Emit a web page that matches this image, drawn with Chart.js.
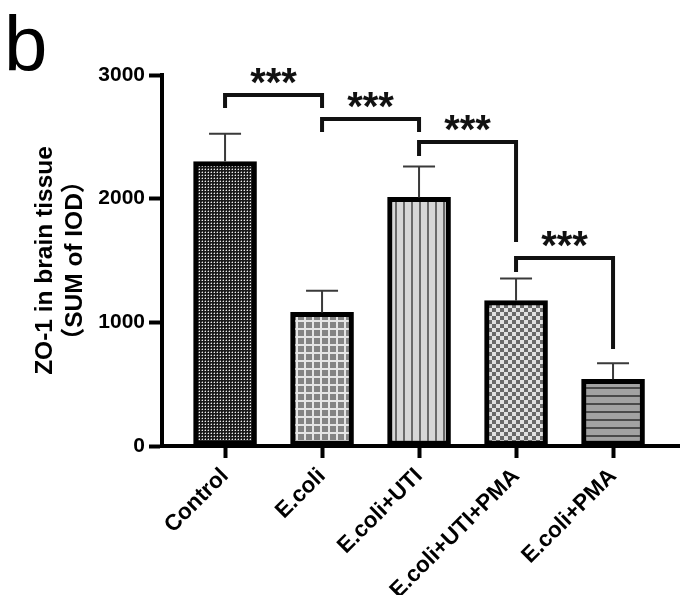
<!DOCTYPE html>
<html>
<head>
<meta charset="utf-8">
<script src="https://cdn.jsdelivr.net/npm/chart.js@4.4.1/dist/chart.umd.min.js"></script>
<style>
  html, body { margin: 0; padding: 0; background: #fff; }
  #wrap { position: relative; width: 685px; height: 595px; }
</style>
</head>
<body>
<div id="wrap"><canvas id="c" width="685" height="595"></canvas></div>
<script>
// ---- data ----
const categories = ["Control", "E.coli", "E.coli+UTI", "E.coli+UTI+PMA", "E.coli+PMA"];
const means = [2300, 1080, 2010, 1175, 540];
const sds = [225, 175, 250, 180, 130];
const yTicks = [0, 1000, 2000, 3000];
const yTitle = ["ZO-1 in brain tissue", "（SUM of IOD）"];
const panelLabel = "b";
// significance brackets: group indices, bracket top and leg ends (in data units)
const sigFrom = [0, 1, 2, 3];
const sigTo = [1, 2, 3, 4];
const sigTop = [2838, 2644, 2458, 1520];
const sigLeftEnd = [2733, 2539, 2345, 1407];
const sigRightEnd = [2733, 2539, 1650, 784];
const sigText = ["***", "***", "***", "***"];

// ---- patterns ----
function makePattern(size, draw) {
  const c = document.createElement('canvas');
  c.width = size; c.height = size;
  const g = c.getContext('2d');
  draw(g, size);
  return g.createPattern(c, 'repeat');
}
const ctx = document.getElementById('c').getContext('2d');
const patterns = [
  makePattern(3, (g) => { g.fillStyle = '#1a1a1a'; g.fillRect(0,0,3,3); g.fillStyle = '#eeeeee'; g.fillRect(1,1,1,1); g.fillStyle='#6a6a6a'; g.fillRect(0,1,1,1); g.fillRect(1,0,1,1); }),
  makePattern(8, (g) => { g.fillStyle = '#858585'; g.fillRect(0,0,8,8); g.fillStyle = '#e6e6e6'; g.fillRect(0,0,8,2); g.fillRect(0,0,2,8); }),
  makePattern(8, (g) => { g.fillStyle = '#d6d6d6'; g.fillRect(0,0,8,8); g.fillStyle = '#6a6a6a'; g.fillRect(3,0,2,8); }),
  makePattern(8, (g) => { g.fillStyle = '#e2e2e2'; g.fillRect(0,0,8,8); g.fillStyle = '#6a6a6a'; g.fillRect(0,0,4,4); g.fillRect(4,4,4,4); }),
  makePattern(8, (g) => { g.fillStyle = '#a2a2a2'; g.fillRect(0,0,8,8); g.fillStyle = '#4a4a4a'; g.fillRect(0,3,8,2); })
];

const FONT = "'Liberation Sans', 'Noto Sans CJK SC', sans-serif";

const extrasPlugin = {
  id: 'extras',
  afterDatasetsDraw(chart) {
    const g = chart.ctx;
    const xs = chart.scales.x, ys = chart.scales.y;
    g.save();
    // error bars
    g.strokeStyle = '#3a3a3a';
    g.lineWidth = 2;
    for (let i = 0; i < means.length; i++) {
      const x = xs.getPixelForValue(i);
      const yb = ys.getPixelForValue(means[i]);
      const yt = ys.getPixelForValue(means[i] + sds[i]);
      g.beginPath();
      g.moveTo(x, yb); g.lineTo(x, yt);
      g.moveTo(x - 16, yt); g.lineTo(x + 16, yt);
      g.stroke();
    }
    // brackets
    g.strokeStyle = '#111';
    g.lineWidth = 4;
    g.lineJoin = 'miter';
    g.lineCap = 'butt';
    g.fillStyle = '#111';
    g.font = "bold 40px " + FONT;
    g.textAlign = 'center';
    g.textBaseline = 'alphabetic';
    for (let k = 0; k < sigFrom.length; k++) {
      const x1 = xs.getPixelForValue(sigFrom[k]);
      const x2 = xs.getPixelForValue(sigTo[k]);
      const yt = ys.getPixelForValue(sigTop[k]);
      g.beginPath();
      g.moveTo(x1, ys.getPixelForValue(sigLeftEnd[k]));
      g.lineTo(x1, yt);
      g.lineTo(x2, yt);
      g.lineTo(x2, ys.getPixelForValue(sigRightEnd[k]));
      g.stroke();
      const m = g.measureText(sigText[k]);
      const yc = yt - 19;
      const base = yc + (m.actualBoundingBoxAscent - m.actualBoundingBoxDescent) / 2;
      g.fillText(sigText[k], (x1 + x2) / 2, base);
    }
    // panel label
    g.font = "78px " + FONT;
    g.textAlign = 'left';
    g.fillStyle = '#000';
    g.fillText(panelLabel, 4, 71);
    g.restore();
  }
};

new Chart(ctx, {
  type: 'bar',
  data: {
    datasets: [{
      data: categories.map((c, i) => ({ x: i, y: means[i] })),
      backgroundColor: patterns,
      borderColor: '#000',
      borderWidth: 5,
      borderSkipped: false,
      barThickness: 63
    }]
  },
  options: {
    responsive: false,
    animation: false,
    devicePixelRatio: 1,
    layout: { padding: { top: 75, left: 30, right: 6, bottom: 0 } },
    plugins: { legend: { display: false }, tooltip: { enabled: false }, title: { display: false } },
    scales: {
      x: {
        type: 'linear',
        offset: false,
        min: -0.65,
        max: 4.68,
        afterBuildTicks: (s) => { s.ticks = categories.map((c, i) => ({ value: i })); },
        afterFit: (s) => { s.height = 149; },
        ticks: {
          autoSkip: false,
          minRotation: 45,
          maxRotation: 45,
          padding: 5,
          color: '#000',
          font: { family: FONT, size: 22.5, weight: 'bold' },
          callback: (v) => categories[v]
        },
        grid: { offset: false, drawOnChartArea: false, drawTicks: true, tickLength: 12, tickWidth: 4, tickColor: '#000' },
        border: { display: true, width: 4, color: '#000' }
      },
      y: {
        min: 0,
        max: 3000,
        afterBuildTicks: (s) => { s.ticks = yTicks.map(v => ({ value: v })); },
        afterFit: (s) => { s.width = 132; },
        ticks: {
          padding: 4,
          color: '#000',
          font: { family: FONT, size: 21, weight: 'bold' },
          callback: (v) => String(v)
        },
        grid: { drawOnChartArea: false, drawTicks: true, tickLength: 13, tickWidth: 4, tickColor: '#000' },
        border: { display: true, width: 4, color: '#000' },
        title: {
          display: true,
          text: yTitle,
          color: '#000',
          font: { family: FONT, size: 24.5, weight: 'bold', lineHeight: 1.22 },
          padding: { top: 0, bottom: 0 }
        }
      }
    }
  },
  plugins: [extrasPlugin]
});
</script>
</body>
</html>
